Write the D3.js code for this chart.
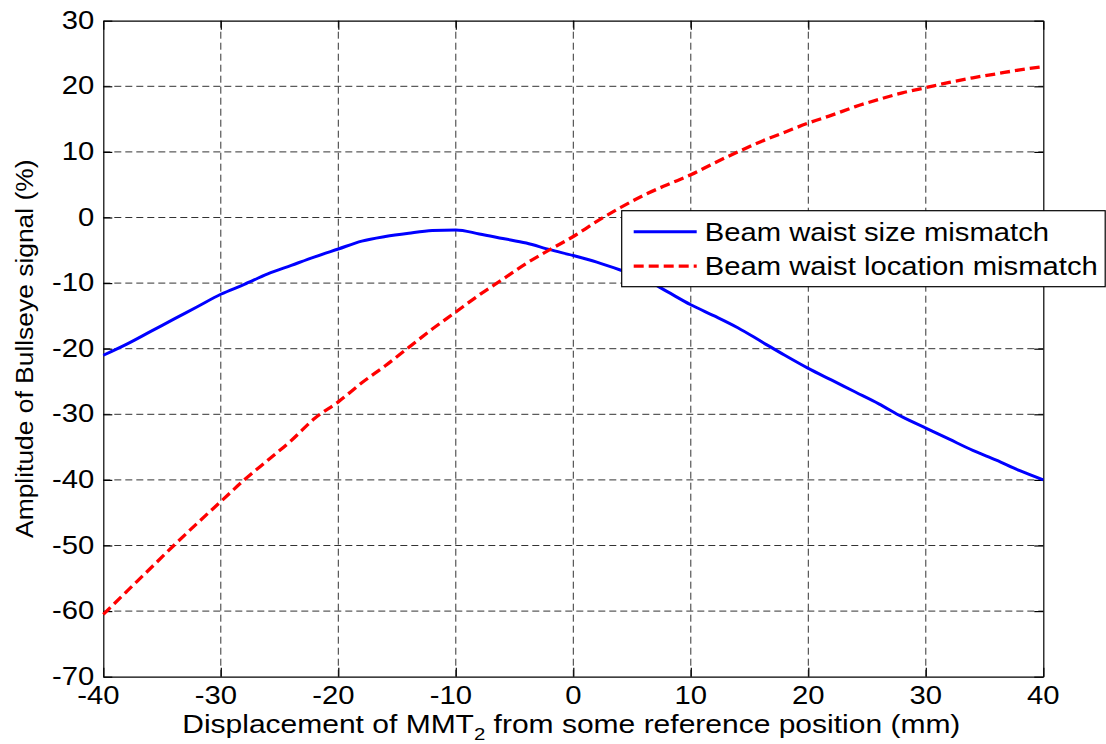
<!DOCTYPE html>
<html>
<head>
<meta charset="utf-8">
<script src="https://cdn.jsdelivr.net/npm/d3@7"></script>
<style>
  body { margin: 0; background: #fff; }
  text { font-family: "Liberation Sans", Arial, Helvetica, sans-serif; fill: #000; }
</style>
</head>
<body>
<svg id="chart" width="1106" height="744"></svg>
<script>
// displacement (mm)
let xs = [-40, -38, -36, -34, -32, -30, -28, -26, -24, -22, -20, -18, -16, -14, -12, -10,
    -8, -6, -4, -2, 0, 2, 4, 6, 8, 10, 12, 14, 16, 18, 20, 22, 24, 26, 28, 30, 32, 34, 36, 38, 40];

// amplitude (%) - beam waist size mismatch
let sizeMismatch = [-21.0, -19.3, -17.4, -15.5, -13.6, -11.7, -10.2, -8.6, -7.3, -6.0, -4.8,
    -3.6, -2.9, -2.4, -2.0, -1.9, -2.5, -3.2, -3.9, -4.9, -5.8, -6.8, -8.0, -9.3, -11.3, -13.3,
    -15.0, -16.8, -18.9, -21.0, -23.0, -24.8, -26.6, -28.4, -30.4, -32.1, -33.8, -35.5, -37.0,
    -38.6, -40.0];

// amplitude (%) - beam waist location mismatch
let locationMismatch = [-60.5, -57.0, -53.5, -50.0, -46.6, -43.3, -40.0, -37.0, -34.0, -30.6,
    -28.1, -25.2, -22.6, -19.8, -17.0, -14.4, -11.8, -9.4, -7.0, -4.9, -2.9, -0.6, 1.5, 3.4,
    5.0, 6.5, 8.3, 10.0, 11.6, 13.0, 14.4, 15.6, 16.9, 18.0, 19.0, 19.8, 20.6, 21.3, 21.9,
    22.5, 23.0];

let xTicks = [-40, -30, -20, -10, 0, 10, 20, 30, 40];
let yTicks = [30, 20, 10, 0, -10, -20, -30, -40, -50, -60, -70];

let seriesNames = ['Beam waist size mismatch', 'Beam waist location mismatch'];

let svg = d3.select('#chart');
let width = +svg.attr('width');
let height = +svg.attr('height');

let margin = { left: 103.3, right: width - 1043.3, top: 20.7, bottom: height - 676.7 };
let stretch = 1.17; // text in the picture is a bit wider than the font

let x = d3.scaleLinear().domain([-40, 40]).range([margin.left, width - margin.right]);
let y = d3.scaleLinear().domain([-70, 30]).range([height - margin.bottom, margin.top]);

svg.append('rect').attr('width', width).attr('height', height).attr('fill', '#fff');

// grid
let grid = svg.append('g').attr('stroke', '#333').attr('stroke-width', 1).attr('stroke-dasharray', '7,4');
grid.selectAll('.vgrid')
    .data(xTicks.slice(1, -1))
    .enter()
    .append('line')
    .attr('x1', d => x(d)).attr('x2', d => x(d))
    .attr('y1', y(30)).attr('y2', y(-70));
grid.selectAll('.hgrid')
    .data(yTicks.slice(1, -1))
    .enter()
    .append('line')
    .attr('x1', x(-40)).attr('x2', x(40))
    .attr('y1', d => y(d)).attr('y2', d => y(d));

// axes, ticks pointing inside (matlab style)
let tickLen = 9;
let axisBottom = svg.append('g')
    .attr('transform', 'translate(0,' + y(-70) + ')')
    .call(d3.axisBottom(x).tickValues(xTicks).tickSizeInner(-tickLen).tickSizeOuter(0).tickFormat(''));
let axisTop = svg.append('g')
    .attr('transform', 'translate(0,' + y(30) + ')')
    .call(d3.axisTop(x).tickValues(xTicks).tickSizeInner(-tickLen).tickSizeOuter(0).tickFormat(''));
let axisLeft = svg.append('g')
    .attr('transform', 'translate(' + x(-40) + ',0)')
    .call(d3.axisLeft(y).tickValues(yTicks).tickSizeInner(-tickLen).tickSizeOuter(0).tickFormat(''));
let axisRight = svg.append('g')
    .attr('transform', 'translate(' + x(40) + ',0)')
    .call(d3.axisRight(y).tickValues(yTicks).tickSizeInner(-tickLen).tickSizeOuter(0).tickFormat(''));
[axisBottom, axisTop, axisLeft, axisRight].forEach(a => {
    a.selectAll('path, line').attr('stroke', '#000').attr('stroke-width', 1.2);
});

// tick labels
svg.selectAll('.xlabel')
    .data(xTicks)
    .enter()
    .append('text')
    .attr('transform', d => 'translate(' + (x(d) - (d < 0 ? 5 : 0)) + ',' + (y(-70) + 27) + ') scale(' + stretch + ',1)')
    .attr('text-anchor', 'middle')
    .attr('font-size', 25)
    .text(d => d);

svg.selectAll('.ylabel')
    .data(yTicks)
    .enter()
    .append('text')
    .attr('transform', d => 'translate(' + (x(-40) - 9) + ',' + (y(d) + 8) + ') scale(' + stretch + ',1)')
    .attr('text-anchor', 'end')
    .attr('font-size', 25)
    .text(d => d);

// axis titles
let xTitle = svg.append('text')
    .attr('transform', 'translate(' + ((x(-40) + x(40)) / 2 - 2) + ',733) scale(1.2,1)')
    .attr('text-anchor', 'middle')
    .attr('font-size', 25);
xTitle.append('tspan').text('Displacement of MMT');
xTitle.append('tspan').attr('font-size', 17).attr('dy', 7).text('2');
xTitle.append('tspan').attr('dy', -7).text(' from some reference position (mm)');

svg.append('text')
    .attr('transform', 'translate(33,' + ((y(30) + y(-70)) / 2) + ') rotate(-90) scale(1.1,1)')
    .attr('text-anchor', 'middle')
    .attr('font-size', 24)
    .text('Amplitude of Bullseye signal (%)');

// curves
let line = d3.line()
    .x((d, i) => x(xs[i]))
    .y(d => y(d))
    .curve(d3.curveMonotoneX);

svg.append('path')
    .datum(sizeMismatch)
    .attr('fill', 'none')
    .attr('stroke', '#0000ff')
    .attr('stroke-width', 3)
    .attr('d', line);

svg.append('path')
    .datum(locationMismatch)
    .attr('fill', 'none')
    .attr('stroke', '#ff0000')
    .attr('stroke-width', 3.3)
    .attr('stroke-dasharray', '10,5')
    .attr('d', line);

// legend
let legend = svg.append('g').attr('transform', 'translate(621.7,210.7)');
legend.append('rect')
    .attr('width', 483.5)
    .attr('height', 76)
    .attr('fill', '#fff')
    .attr('stroke', '#000')
    .attr('stroke-width', 1.2);

let rows = legend.selectAll('.row')
    .data(seriesNames)
    .enter()
    .append('g')
    .attr('transform', (d, i) => 'translate(0,' + (21 + i * 34.5) + ')');

rows.append('line')
    .attr('x1', 12).attr('x2', 75)
    .attr('stroke', (d, i) => (i === 0 ? '#0000ff' : '#ff0000'))
    .attr('stroke-width', (d, i) => (i === 0 ? 3 : 3.3))
    .attr('stroke-dasharray', (d, i) => (i === 0 ? null : '10,5'));

rows.append('text')
    .attr('transform', 'translate(83,9) scale(' + stretch + ',1)')
    .attr('font-size', 25)
    .text(d => d);
</script>
</body>
</html>
